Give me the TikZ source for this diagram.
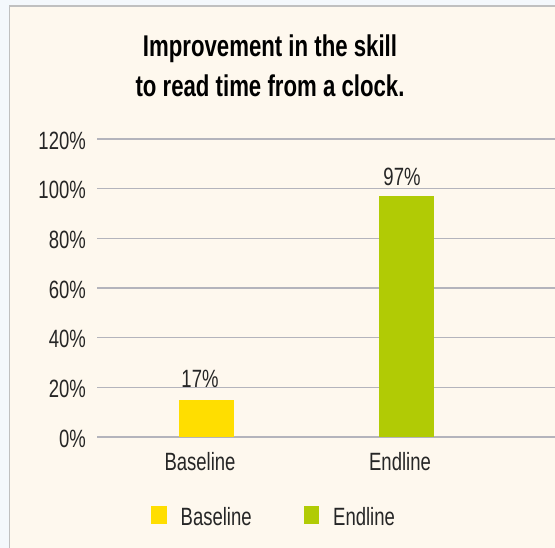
\documentclass[tikz,border=0pt]{standalone}
\usepackage{fontspec}
\setmainfont[FakeStretch=0.74]{Liberation Sans}
\definecolor{outerbg}{HTML}{F4F8FC}
\definecolor{cream}{HTML}{FEF8EE}
\definecolor{framegray}{HTML}{C0C0C0}
\definecolor{gridgray}{HTML}{B4B4BC}
\definecolor{baseyellow}{HTML}{FFDE00}
\definecolor{endgreen}{HTML}{B1CB05}
\begin{document}
\begin{tikzpicture}[x=1pt, y=-1pt,
    lbl/.style = {font=\fontsize{25}{30}\selectfont, text=black!85, inner sep=0pt},
    ttl/.style = {font=\fontsize{30}{36}\selectfont\bfseries, inner sep=0pt},
    gridline/.style = {draw=gridgray, line width=1.4pt}]

      \useasboundingbox (0, 0) rectangle (555, 548);
      \fill [outerbg] (0, 0) rectangle (555, 548);
      \draw [fill = cream, draw = framegray, line width = 1.6pt] (9.5, 6) rectangle (570, 560);

      \node[ttl, anchor = base] (title1) at (270, 57) {Improvement in the skill};
      \node[ttl, anchor = base] (title2) at (270, 97) {to read time from a clock.};

      \foreach \v in {0, 20, ..., 120} {
        \draw[gridline] (97, 437 - 2.483 * \v) -- (555, 437 - 2.483 * \v);
        \node[lbl, anchor = east] (tick\v) at (86, 438.5 - 2.483 * \v) {\v\%};
      }

      \fill [baseyellow] (178.5, 400) rectangle (234, 437);
      \fill [endgreen] (379, 196.5) rectangle (434, 437);

      \node[lbl] (valbase) at (200, 378.5) {17\%};
      \node[lbl] (valend) at (402, 177) {97\%};
      \node[lbl, anchor = base] (catbase) at (200, 471) {Baseline};
      \node[lbl, anchor = base] (catend) at (400, 471) {Endline};

      \fill [baseyellow] (151, 506) rectangle (166.5, 524);
      \node[lbl, anchor = base west] (legbase) at (180.5, 525) {Baseline};
      \fill [endgreen] (303.5, 506) rectangle (319, 524);
      \node[lbl, anchor = base west] (legend) at (333, 525) {Endline};

    \end{tikzpicture}
\end{document}
